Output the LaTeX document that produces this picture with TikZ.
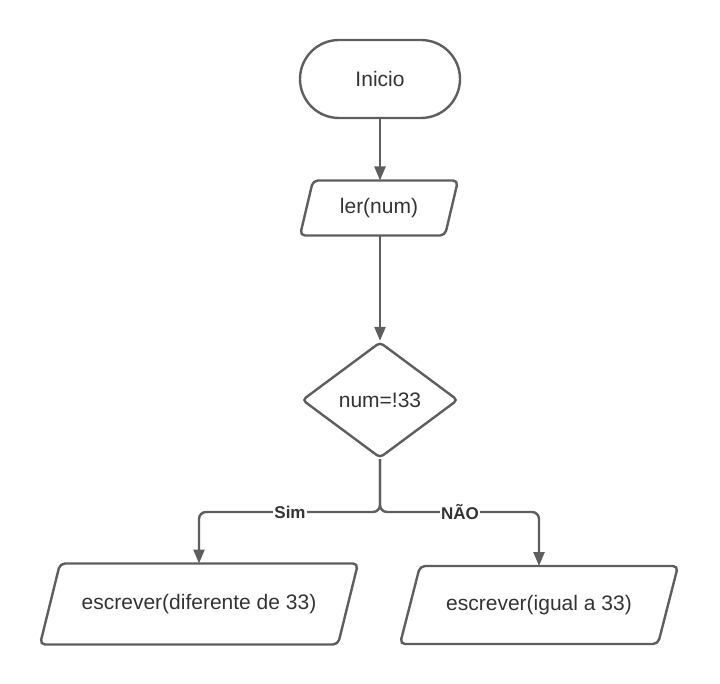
\documentclass[tikz,border=0pt]{standalone}
\usepackage{fontspec}
\setmainfont{Liberation Sans}
\usetikzlibrary{shapes.geometric,arrows.meta}
\definecolor{ln}{HTML}{5E5E5E}
\definecolor{tx}{HTML}{333333}
\tikzset{
  shp/.style={draw=ln, line width=2.4pt, fill=white, text=tx, font=\fontsize{21}{25}\selectfont, inner sep=0pt},
  term/.style={shp, rectangle, rounded corners=39pt, minimum width=160pt, minimum height=78pt},
  io/.style={rectangle, text=tx, font=\fontsize{21}{25}\selectfont, inner sep=0pt, outer sep=0pt},
  ioline/.style={draw=ln, line width=2.4pt, rounded corners=5pt},
  dec/.style={shp, diamond, minimum width=156pt, minimum height=116pt, rounded corners=4pt},
  conn/.style={draw=ln, line width=2.4pt, -{Triangle[length=14pt,width=11pt]}},
  lbl/.style={fill=white, text=tx, font=\fontsize{17}{20}\bfseries, inner sep=1pt}
}
\begin{document}
\begin{tikzpicture}[x=1pt,y=-1pt]
\useasboundingbox (0,0) rectangle (720,684);
\node[term] (ini) at (380,79) {Inicio};
\node[io, minimum width=158pt, minimum height=55pt] (ler) at (379,208) {ler(num)};
\draw[ioline] ([xshift=13pt]ler.north west) -- (ler.north east) -- ([xshift=-13pt]ler.south east) -- (ler.south west) -- cycle;
\node[dec] (cond) at (380,400) {num=!33};
\node[io, minimum width=318pt, minimum height=81pt] (esq) at (199,604) {escrever(diferente de 33)};
\draw[ioline] ([xshift=20pt]esq.north west) -- (esq.north east) -- ([xshift=-20pt]esq.south east) -- (esq.south west) -- cycle;
\node[io, minimum width=278pt, minimum height=78pt] (dir) at (539,605) {escrever(igual a 33)};
\draw[ioline] ([xshift=20pt]dir.north west) -- (dir.north east) -- ([xshift=-20pt]dir.south east) -- (dir.south west) -- cycle;
\coordinate (j) at (380,512);
\draw[conn] (ini.south) -- (ini.south |- ler.north);
\draw[conn] (ler.south -| cond.north) -- (cond.north);
\draw[conn, rounded corners=7pt] (cond.south) -- (j) -| (esq.north);
\draw[conn, rounded corners=7pt] (cond.south) -- (j) -| (dir.north);
\node[lbl] (sim) at (290,512) {Sim};
\node[lbl] (nao) at (460,512) {NÃO};
\end{tikzpicture}
\end{document}
